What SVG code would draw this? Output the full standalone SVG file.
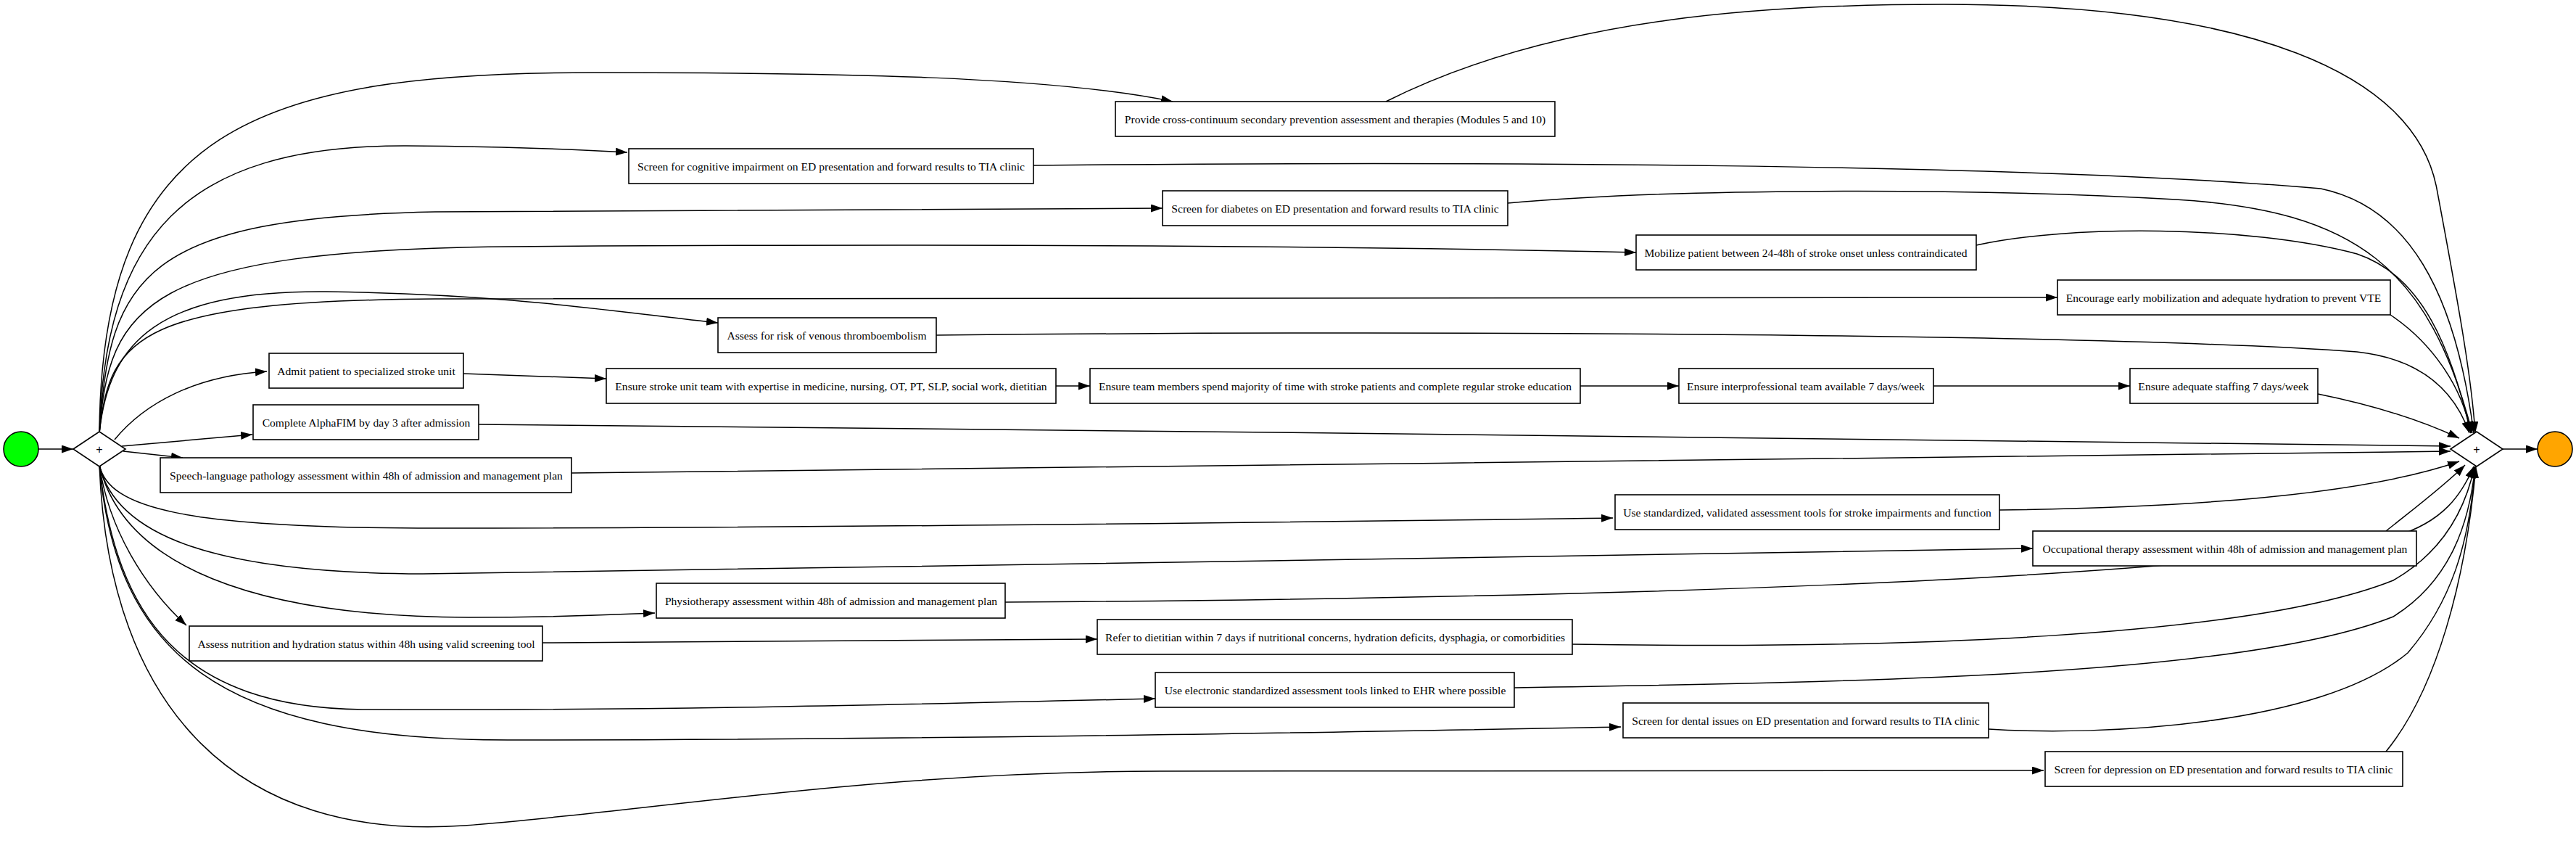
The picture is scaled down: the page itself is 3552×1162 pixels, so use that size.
<svg xmlns="http://www.w3.org/2000/svg" width="3552" height="1162" viewBox="0 0 3552 1162">
<style>
.box{fill:#fff;stroke:#000;stroke-width:1.6}
.t{font-family:"Liberation Serif","Times New Roman",serif;font-size:15.6px;fill:#000;text-anchor:middle;dominant-baseline:central}
.e{fill:none;stroke:#000;stroke-width:1.5}
.gw{fill:#fff;stroke:#000;stroke-width:1.6}
.plus{font-family:"Liberation Sans",Arial,sans-serif;font-size:16px;fill:#000;text-anchor:middle;dominant-baseline:central}
</style>
<defs>
<marker id="a" markerUnits="userSpaceOnUse" markerWidth="17" markerHeight="12" refX="16" refY="5.5" orient="auto">
<path d="M0,0 L16,5.5 L0,11 z" fill="#000"/>
</marker>
</defs>
<rect width="3552" height="1162" fill="#fff"/>
<g id="edges" class="edges">
<path class="e" marker-end="url(#a)" d="M53,619 L101,619"/>
<path class="e" marker-end="url(#a)" d="M3451,619 L3499,619"/>
<!-- gw1 to nodes -->
<path class="e" marker-end="url(#a)" d="M137,597 C140,180 350,100 820,100 C1150,100 1450,105 1617,140"/>
<path class="e" marker-end="url(#a)" d="M137,597 C145,330 250,200 560,201 C700,202 780,205 865,210"/>
<path class="e" marker-end="url(#a)" d="M137,597 C150,380 200,300 600,292 C1000,288 1400,287 1603,287"/>
<path class="e" marker-end="url(#a)" d="M137,597 C150,420 200,345 700,340 C1400,335 1900,340 2256,348"/>
<path class="e" marker-end="url(#a)" d="M137,597 C150,460 200,415 600,412 C1500,410 2400,410 2837,410"/>
<path class="e" marker-end="url(#a)" d="M137,597 C150,470 220,400 450,402 C700,405 850,430 990,445"/>
<path class="e" marker-end="url(#a)" d="M158,606 C200,555 270,518 368,512"/>
<path class="e" marker-end="url(#a)" d="M168,615 L348,599"/>
<path class="e" marker-end="url(#a)" d="M170,622 L252,631"/>
<path class="e" marker-end="url(#a)" d="M137,641 C150,700 250,728 600,728 C1200,728 1900,718 2224,714"/>
<path class="e" marker-end="url(#a)" d="M137,641 C160,740 300,790 583,791 C900,792 2300,760 2803,756"/>
<path class="e" marker-end="url(#a)" d="M137,641 C170,780 350,850 646,851 C780,851 850,847 903,845"/>
<path class="e" marker-end="url(#a)" d="M137,641 C150,730 200,810 257,862"/>
<path class="e" marker-end="url(#a)" d="M137,641 C160,850 250,975 500,978 C900,980 1300,970 1593,963"/>
<path class="e" marker-end="url(#a)" d="M137,641 C160,900 300,1020 700,1020 C1300,1020 1900,1008 2235,1002"/>
<path class="e" marker-end="url(#a)" d="M137,641 C150,980 330,1160 640,1138 C900,1118 1200,1064 1600,1063 C2200,1062 2600,1062 2818,1062"/>
<!-- chains -->
<path class="e" marker-end="url(#a)" d="M639,515 L836,522"/>
<path class="e" marker-end="url(#a)" d="M1456,532 L1503,532"/>
<path class="e" marker-end="url(#a)" d="M2179,532 L2315,532"/>
<path class="e" marker-end="url(#a)" d="M2666,532 L2937,532"/>
<path class="e" marker-end="url(#a)" d="M748,886 L1513,881"/>
<!-- nodes to gw2 -->
<path class="e" marker-end="url(#a)" d="M1911,140 C2150,20 2450,6 2680,6 C3100,6 3330,100 3360,260 C3390,420 3408,520 3413,597"/>
<path class="e" marker-end="url(#a)" d="M1425,228 C2000,222 2800,225 3200,260 C3320,285 3385,400 3411,597"/>
<path class="e" marker-end="url(#a)" d="M2079,280 C2300,260 2700,258 3000,275 C3250,290 3350,370 3409,597"/>
<path class="e" marker-end="url(#a)" d="M2725,338 C2850,310 3100,310 3250,350 C3340,380 3380,480 3407,597"/>
<path class="e" marker-end="url(#a)" d="M3296,434 C3350,470 3395,530 3407,597"/>
<path class="e" marker-end="url(#a)" d="M1291,462 C2000,455 2900,460 3250,485 C3340,495 3385,540 3405,597"/>
<path class="e" marker-end="url(#a)" d="M3196,543 C3280,560 3340,580 3391,604"/>
<path class="e" marker-end="url(#a)" d="M660,585 C1500,592 2800,608 3379,615"/>
<path class="e" marker-end="url(#a)" d="M788,652 C1500,645 2800,628 3379,622"/>
<path class="e" marker-end="url(#a)" d="M2757,703 C3000,700 3250,685 3391,636"/>
<path class="e" marker-end="url(#a)" d="M3290,732 C3330,700 3370,670 3399,641"/>
<path class="e" marker-end="url(#a)" d="M1386,830 C2200,825 3000,800 3300,740 C3370,720 3395,680 3411,643"/>
<path class="e" marker-end="url(#a)" d="M2168,888 C2600,895 3100,880 3300,800 C3370,760 3400,700 3412,643"/>
<path class="e" marker-end="url(#a)" d="M2088,948 C2600,940 3100,930 3300,850 C3380,800 3405,720 3413,643"/>
<path class="e" marker-end="url(#a)" d="M2742,1005 C2900,1015 3200,1000 3320,900 C3380,830 3405,750 3413,643"/>
<path class="e" marker-end="url(#a)" d="M3290,1036 C3360,950 3400,800 3414,643"/>
</g>
<g id="start"><circle cx="29" cy="619" r="24" fill="#00ff00" stroke="#000" stroke-width="1.6"/></g>
<g id="gw1"><path class="gw" d="M101,619 L137,595 L173,619 L137,643 z"/><text class="plus" x="137" y="619">+</text></g>
<g id="gw2"><path class="gw" d="M3379,619 L3415,595 L3451,619 L3415,643 z"/><text class="plus" x="3415" y="619">+</text></g>
<g id="end"><circle cx="3523" cy="619" r="24" fill="#ffa500" stroke="#000" stroke-width="1.6"/></g>
<g id="n1"><rect class="box" x="1538" y="140" width="606" height="48"/><text class="t" x="1841" y="164">Provide cross-continuum secondary prevention assessment and therapies (Modules 5 and 10)</text></g>
<g id="n2"><rect class="box" x="867" y="205" width="558" height="48"/><text class="t" x="1146" y="229">Screen for cognitive impairment on ED presentation and forward results to TIA clinic</text></g>
<g id="n3"><rect class="box" x="1603" y="263" width="476" height="48"/><text class="t" x="1841" y="287">Screen for diabetes on ED presentation and forward results to TIA clinic</text></g>
<g id="n4"><rect class="box" x="2256" y="324" width="469" height="48"/><text class="t" x="2490" y="348">Mobilize patient between 24-48h of stroke onset unless contraindicated</text></g>
<g id="n5"><rect class="box" x="2837" y="386" width="459" height="48"/><text class="t" x="3066" y="410">Encourage early mobilization and adequate hydration to prevent VTE</text></g>
<g id="n6"><rect class="box" x="990" y="438" width="301" height="48"/><text class="t" x="1140" y="462">Assess for risk of venous thromboembolism</text></g>
<g id="n7"><rect class="box" x="371" y="487" width="268" height="48"/><text class="t" x="505" y="511">Admit patient to specialized stroke unit</text></g>
<g id="n8"><rect class="box" x="836" y="508" width="620" height="48"/><text class="t" x="1146" y="532">Ensure stroke unit team with expertise in medicine, nursing, OT, PT, SLP, social work, dietitian</text></g>
<g id="n9"><rect class="box" x="1503" y="508" width="676" height="48"/><text class="t" x="1841" y="532">Ensure team members spend majority of time with stroke patients and complete regular stroke education</text></g>
<g id="n10"><rect class="box" x="2315" y="508" width="351" height="48"/><text class="t" x="2490" y="532">Ensure interprofessional team available 7 days/week</text></g>
<g id="n11"><rect class="box" x="2937" y="508" width="259" height="48"/><text class="t" x="3066" y="532">Ensure adequate staffing 7 days/week</text></g>
<g id="n12"><rect class="box" x="349" y="558" width="311" height="48"/><text class="t" x="505" y="582">Complete AlphaFIM by day 3 after admission</text></g>
<g id="n13"><rect class="box" x="221" y="631" width="567" height="48"/><text class="t" x="505" y="655">Speech-language pathology assessment within 48h of admission and management plan</text></g>
<g id="n14"><rect class="box" x="2227" y="682" width="530" height="48"/><text class="t" x="2492" y="706">Use standardized, validated assessment tools for stroke impairments and function</text></g>
<g id="n15"><rect class="box" x="2803" y="732" width="529" height="48"/><text class="t" x="3068" y="756">Occupational therapy assessment within 48h of admission and management plan</text></g>
<g id="n16"><rect class="box" x="905" y="804" width="481" height="48"/><text class="t" x="1146" y="828">Physiotherapy assessment within 48h of admission and management plan</text></g>
<g id="n17"><rect class="box" x="261" y="863" width="487" height="48"/><text class="t" x="505" y="887">Assess nutrition and hydration status within 48h using valid screening tool</text></g>
<g id="n18"><rect class="box" x="1513" y="854" width="655" height="48"/><text class="t" x="1841" y="878">Refer to dietitian within 7 days if nutritional concerns, hydration deficits, dysphagia, or comorbidities</text></g>
<g id="n19"><rect class="box" x="1593" y="927" width="495" height="48"/><text class="t" x="1841" y="951">Use electronic standardized assessment tools linked to EHR where possible</text></g>
<g id="n20"><rect class="box" x="2238" y="969" width="504" height="48"/><text class="t" x="2490" y="993">Screen for dental issues on ED presentation and forward results to TIA clinic</text></g>
<g id="n21"><rect class="box" x="2820" y="1036" width="493" height="48"/><text class="t" x="3066" y="1060">Screen for depression on ED presentation and forward results to TIA clinic</text></g>
</svg>
